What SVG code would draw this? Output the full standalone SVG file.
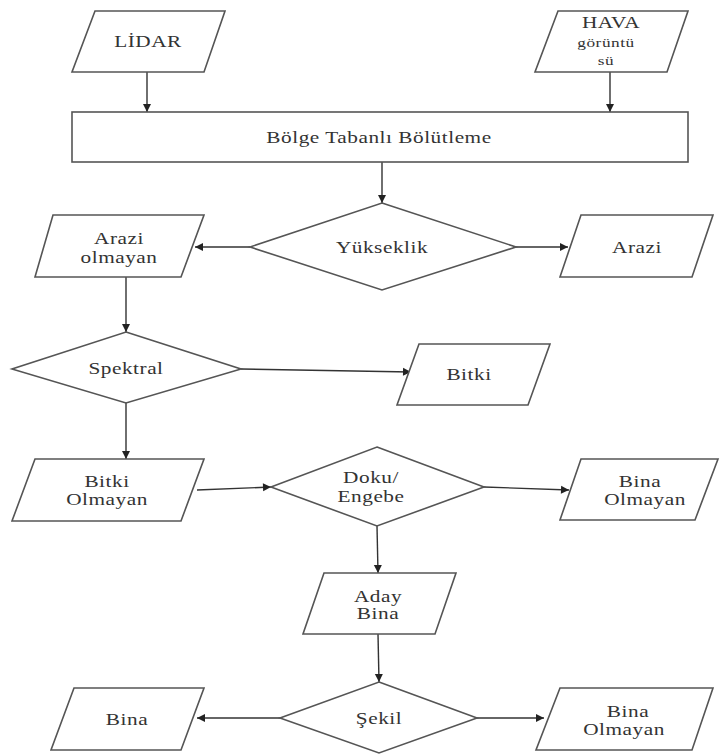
<svg xmlns="http://www.w3.org/2000/svg" width="726" height="756" viewBox="0 0 726 756">
<defs>
<marker id="ah" markerUnits="userSpaceOnUse" markerWidth="10" markerHeight="10" refX="9" refY="5" orient="auto">
<path d="M1,1 L9,5 L1,9 Z" fill="#222"/>
</marker>
<style>
.shape{fill:#fff;stroke:#555;stroke-width:1.6}
.t{font-family:"Liberation Serif","DejaVu Serif","Times New Roman",serif;font-size:16px;fill:#333;text-anchor:middle;letter-spacing:0.4px}
.s{font-size:13px}
.c{stroke:#333;stroke-width:1.4;fill:none;marker-end:url(#ah)}
</style>
</defs>
<rect width="726" height="756" fill="#fff"/>
<g id="connectors">
<line class="c" x1="147" y1="72" x2="147" y2="112"/>
<line class="c" x1="610" y1="72" x2="610" y2="112"/>
<line class="c" x1="382" y1="162" x2="382" y2="203"/>
<line class="c" x1="250" y1="247" x2="195" y2="247"/>
<line class="c" x1="516" y1="247" x2="568" y2="247"/>
<line class="c" x1="126" y1="277" x2="126" y2="332"/>
<line class="c" x1="241" y1="369" x2="411" y2="372"/>
<line class="c" x1="126" y1="403" x2="126" y2="459"/>
<line class="c" x1="197" y1="490" x2="271" y2="487"/>
<line class="c" x1="484" y1="487" x2="569" y2="490"/>
<line class="c" x1="377" y1="526" x2="378" y2="573"/>
<line class="c" x1="378" y1="634" x2="379" y2="682"/>
<line class="c" x1="280" y1="718" x2="197" y2="718"/>
<line class="c" x1="477" y1="718" x2="544" y2="718"/>
</g>
<g id="lidar">
<polygon class="shape" points="95,11 225,11 204,72 72,72"/>
<text class="t" transform="matrix(1.33 0 0 1 148 47)">LİDAR</text>
</g>
<g id="hava">
<polygon class="shape" points="558,11 688,11 667,72 535,72"/>
<text class="t" transform="matrix(1.33 0 0 1 611 28)">HAVA</text>
<text class="t s" transform="matrix(1.33 0 0 1 606 47)">görüntü</text>
<text class="t s" transform="matrix(1.33 0 0 1 606 65)">sü</text>
</g>
<g id="bolge">
<rect class="shape" x="72" y="112" width="616" height="50"/>
<text class="t" transform="matrix(1.33 0 0 1 379 143)">Bölge Tabanlı Bölütleme</text>
</g>
<g id="yukseklik">
<polygon class="shape" points="382,203 516,247 382,290 250,247"/>
<text class="t" transform="matrix(1.33 0 0 1 382 253)">Yükseklik</text>
</g>
<g id="arazi-olmayan">
<polygon class="shape" points="53,215 204,215 181,277 35,277"/>
<text class="t" transform="matrix(1.33 0 0 1 119 244)">Arazi</text>
<text class="t" transform="matrix(1.33 0 0 1 119 263)">olmayan</text>
</g>
<g id="arazi">
<polygon class="shape" points="581,215 713,215 692,277 560,277"/>
<text class="t" transform="matrix(1.33 0 0 1 637 253)">Arazi</text>
</g>
<g id="spektral">
<polygon class="shape" points="126,332 241,369 126,403 12,369"/>
<text class="t" transform="matrix(1.33 0 0 1 126 374)">Spektral</text>
</g>
<g id="bitki">
<polygon class="shape" points="419,344 550,344 528,405 397,405"/>
<text class="t" transform="matrix(1.33 0 0 1 469 380)">Bitki</text>
</g>
<g id="bitki-olmayan">
<polygon class="shape" points="35,459 204,459 181,521 12,521"/>
<text class="t" transform="matrix(1.33 0 0 1 107 487)">Bitki</text>
<text class="t" transform="matrix(1.33 0 0 1 107 505)">Olmayan</text>
</g>
<g id="doku">
<polygon class="shape" points="377,447 484,487 377,526 271,487"/>
<text class="t" transform="matrix(1.33 0 0 1 371 483)">Doku/</text>
<text class="t" transform="matrix(1.33 0 0 1 371 502)">Engebe</text>
</g>
<g id="bina-olmayan-1">
<polygon class="shape" points="581,459 718,459 695,520 560,520"/>
<text class="t" transform="matrix(1.33 0 0 1 640 487)">Bina</text>
<text class="t" transform="matrix(1.33 0 0 1 645 505)">Olmayan</text>
</g>
<g id="aday-bina">
<polygon class="shape" points="324,573 456,573 435,634 303,634"/>
<text class="t" transform="matrix(1.33 0 0 1 378 602)">Aday</text>
<text class="t" transform="matrix(1.33 0 0 1 378 619)">Bina</text>
</g>
<g id="sekil">
<polygon class="shape" points="379,682 477,718 379,753 280,718"/>
<text class="t" transform="matrix(1.33 0 0 1 379 724)">Şekil</text>
</g>
<g id="bina">
<polygon class="shape" points="74,688 204,688 181,750 51,750"/>
<text class="t" transform="matrix(1.33 0 0 1 127 725)">Bina</text>
</g>
<g id="bina-olmayan-2">
<polygon class="shape" points="560,688 713,688 692,750 536,750"/>
<text class="t" transform="matrix(1.33 0 0 1 628 717)">Bina</text>
<text class="t" transform="matrix(1.33 0 0 1 624 735)">Olmayan</text>
</g>
</svg>
